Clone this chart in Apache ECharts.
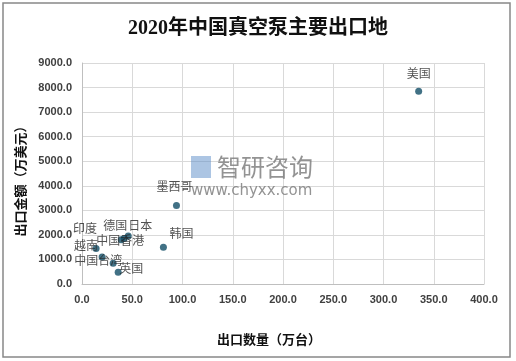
<!DOCTYPE html>
<html><head><meta charset="utf-8">
<script src="https://cdn.jsdelivr.net/npm/echarts@6/dist/echarts.min.js"></script>
<style>html,body{margin:0;padding:0;background:#fff}#c{width:516px;height:361px}</style>
</head><body><div id="c"></div>
<script>
const names = ['美国','墨西哥','韩国','日本','德国','中国香港','印度','越南','中国台湾','英国'];
const qty = [335, 94, 81, 46, 42, 39, 14, 20, 31, 36];
const amount = [7850, 3200, 1500, 1950, 1850, 1800, 1450, 1100, 850, 480];
const labelOffsets = [[0,-18],[-2,-19],[18,-14],[12,-11],[-9,-13],[-1,1],[-11,-20],[-16,-12],[-15,-3],[13,-4]];
const xTicks = {min:0, max:400, interval:50};
const yTicks = {min:0, max:9000, interval:1000};

const chart = echarts.init(document.getElementById('c'));
const data = names.map((n,i)=>({
  name:n, value:[qty[i], amount[i]],
  label:{show:true, position:'inside', offset:labelOffsets[i], formatter:n}
}));
chart.setOption({
  animation:false,
  title:{text:'2020年中国真空泵主要出口地', left:'center', top:14,
    textStyle:{fontSize:20, fontWeight:'bold', color:'#111', fontFamily:"'Liberation Serif','Noto Sans CJK SC',serif"}},
  grid:{left:82, right:32, top:63, bottom:77, containLabel:false},
  xAxis:{type:'value', min:xTicks.min, max:xTicks.max, interval:xTicks.interval,
    axisLine:{show:true, lineStyle:{color:'#bfbfbf'}}, axisTick:{show:false},
    splitLine:{show:true, lineStyle:{color:'#d9d9d9'}},
    axisLabel:{formatter:v=>v.toFixed(1), color:'#404040', fontSize:11, fontWeight:'bold', margin:10, fontFamily:"'Liberation Sans',Arial"}},
  yAxis:{type:'value', min:yTicks.min, max:yTicks.max, interval:yTicks.interval,
    axisLine:{show:true, lineStyle:{color:'#bfbfbf'}}, axisTick:{show:false},
    splitLine:{show:true, lineStyle:{color:'#d9d9d9'}},
    axisLabel:{formatter:v=>v.toFixed(1), color:'#404040', fontSize:11, fontWeight:'bold', margin:10, fontFamily:"'Liberation Sans',Arial"}},
  series:[{type:'scatter', symbol:'circle', symbolSize:7, data:data,
    itemStyle:{color:'#124d66'},
    label:{color:'#262626', fontSize:12, fontFamily:"'Noto Sans CJK SC'"}, z:3}],
  graphic:[
    {type:'rect', shape:{x:3,y:3,width:507,height:354}, style:{fill:'none', stroke:'#888', lineWidth:1.5}, silent:true},
    {type:'text', x:269, y:339, style:{text:'出口数量（万台）', fill:'#111', align:'center', verticalAlign:'middle', font:"bold 13px 'Noto Sans CJK SC'"}},
    {type:'text', x:20, y:178, rotation:Math.PI/2, style:{text:'出口金额（万美元）', fill:'#111', align:'center', verticalAlign:'middle', font:"bold 13px 'Noto Sans CJK SC'"}},
    {type:'text', x:217, y:167, style:{text:'智研咨询', fill:'rgba(120,120,120,0.8)', verticalAlign:'middle', font:"24px 'Noto Sans CJK SC'"}, z:1},
    {type:'text', x:191, y:191, style:{text:'www.chyxx.com', fill:'rgba(120,120,120,0.8)', verticalAlign:'middle', font:"15px 'DejaVu Sans'"}, z:1},
    {type:'rect', shape:{x:191,y:156,width:20,height:22}, style:{fill:'rgba(90,140,200,0.5)'}, z:1}
  ]
});
</script></body></html>
